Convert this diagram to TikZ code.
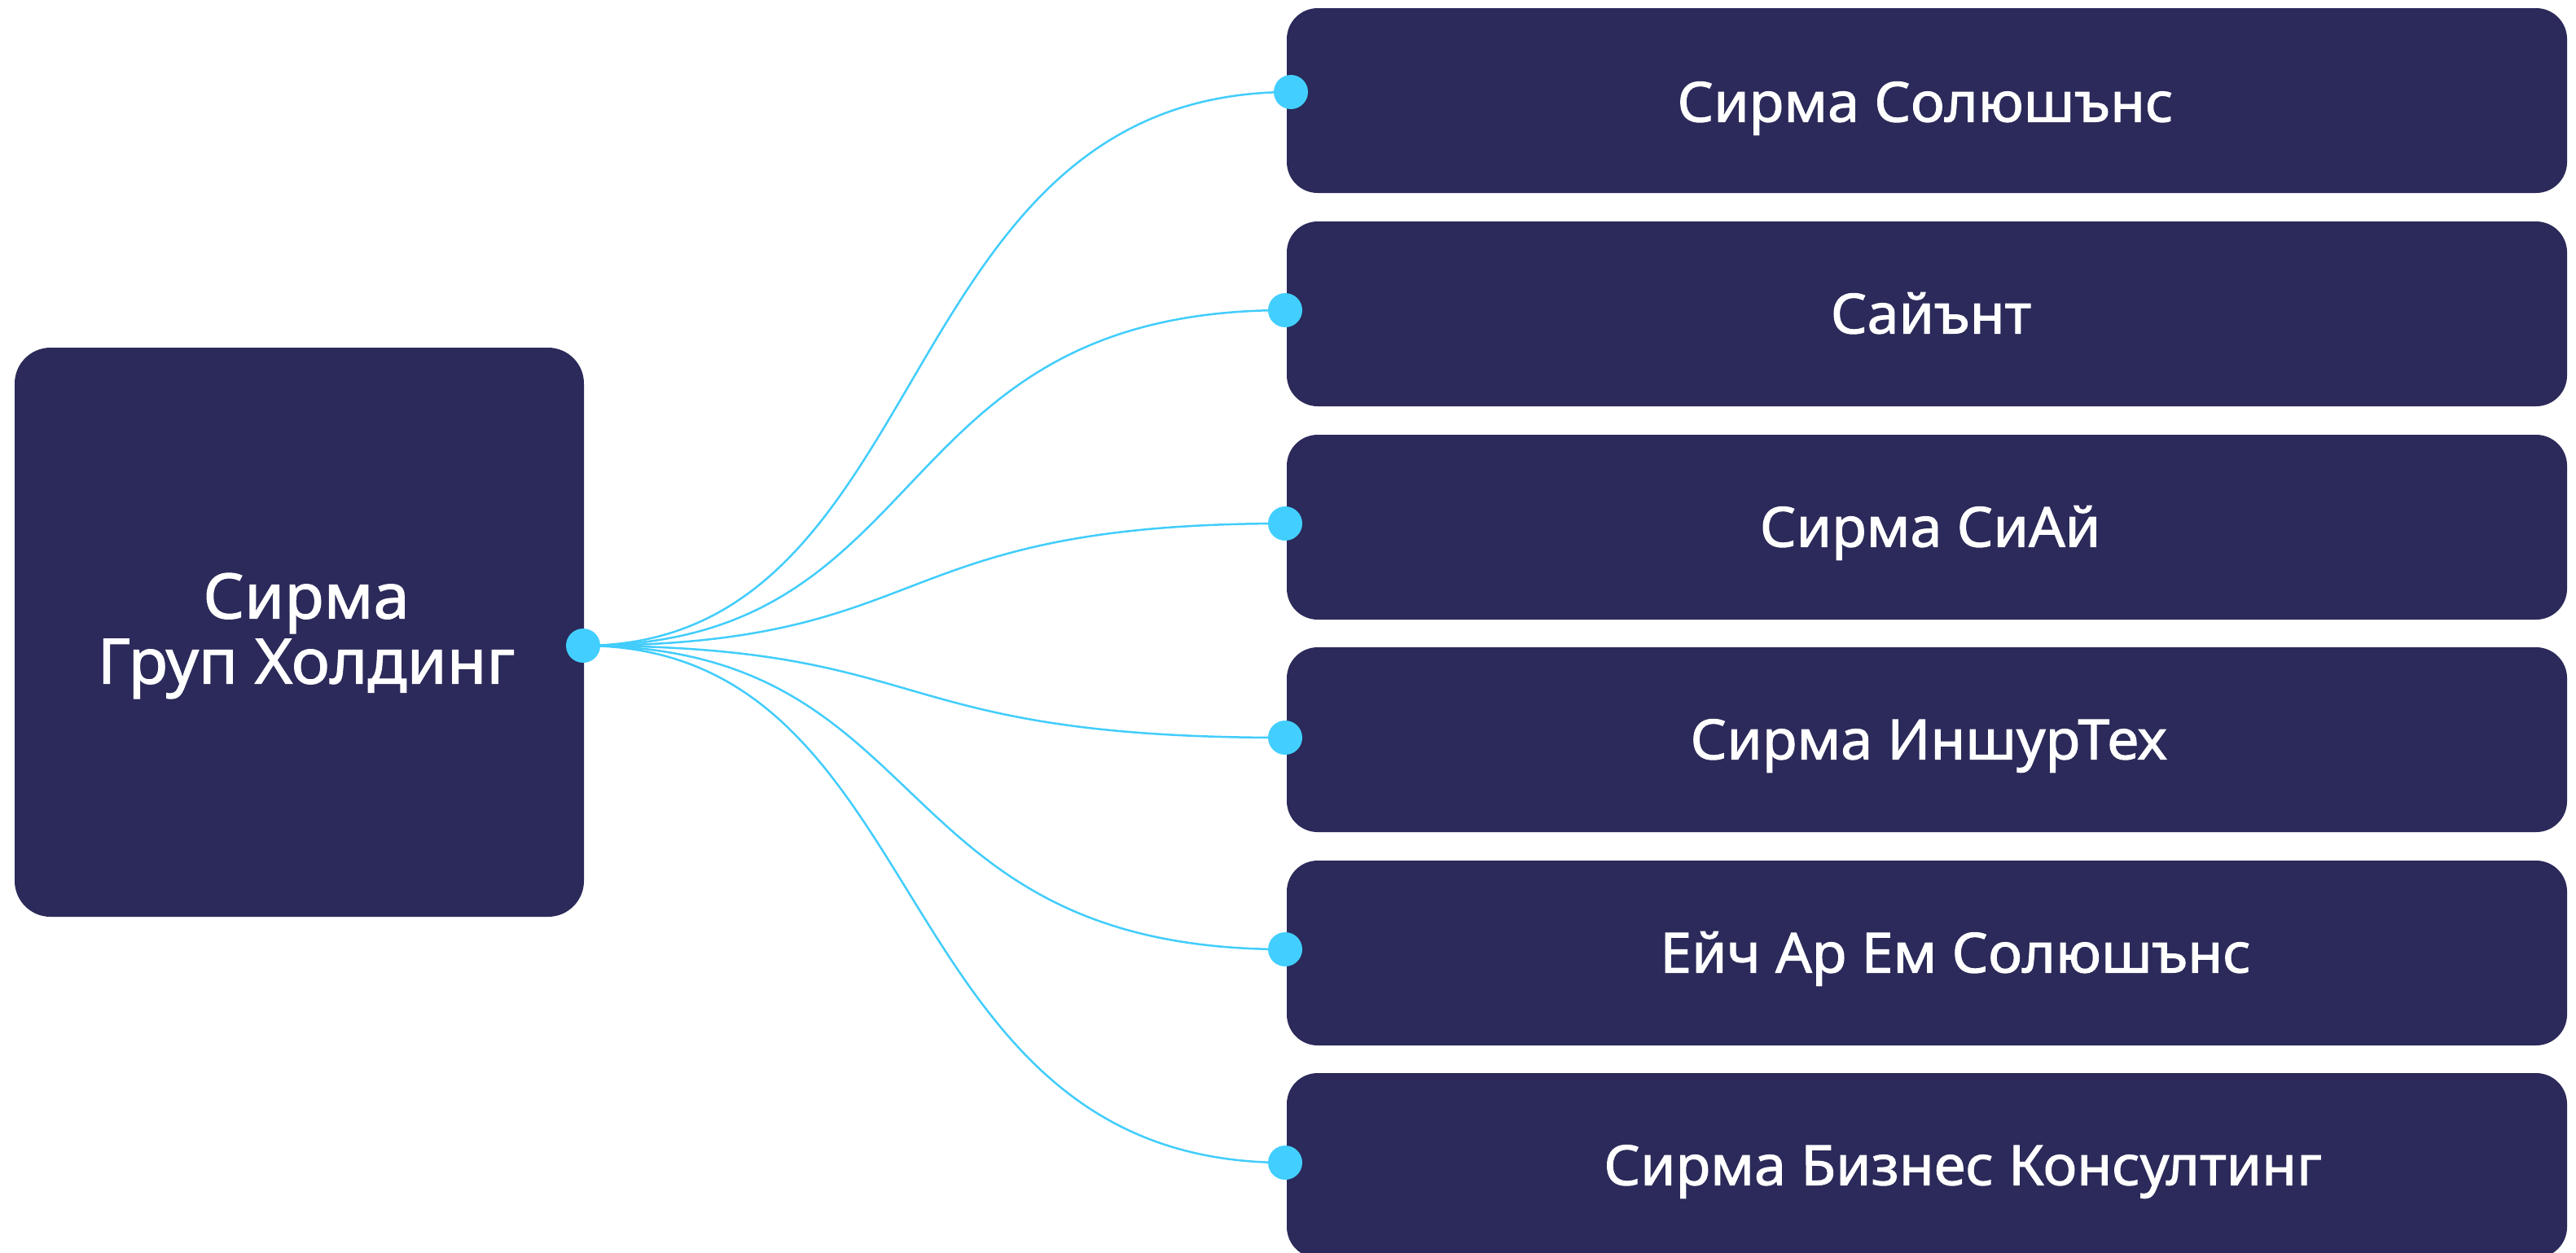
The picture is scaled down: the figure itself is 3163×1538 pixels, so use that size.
\documentclass[tikz,border=0pt]{standalone}
\usepackage{fontspec}
\setmainfont{Noto Sans}[Script=Cyrillic,Language=Bulgarian,FakeBold=1.5,FakeStretch=1.03]
\usetikzlibrary{backgrounds}
\definecolor{navy}{HTML}{2B2A5A}
\definecolor{cyanline}{HTML}{42CDFC}
\definecolor{dotc}{HTML}{42CFFF}
\begin{document}
\begin{tikzpicture}[x=0.5pt,y=-0.5pt,
  card/.style={fill=navy, rounded corners=19pt, minimum width=786pt, minimum height=113.5pt, inner sep=0pt},
  boss/.style={fill=navy, rounded corners=22pt, minimum width=349.5pt, minimum height=349.5pt, inner sep=0pt},
  lbl/.style={text=white, font=\fontsize{34}{40}\selectfont, text height=24.5pt, text depth=0pt, inner sep=0pt},
  bosslbl/.style={text=white, font=\fontsize{38.5}{40}\selectfont, align=center, inner sep=0pt},
  dot/.style={circle, fill=dotc, minimum size=21pt, inner sep=0pt},
  link/.style={draw=cyanline, line width=1.25pt}]
\useasboundingbox (0,0) rectangle (3163,1538);
\clip (0,0) rectangle (3163,1538);
% boxes
\node[boss] (hold) at (367.5,776.5) {};
\node[bosslbl] (holdt) at (376,781) {Сирма\\Груп Холдинг};
\node[card] (b1) at (2366,123.5) {};
\node[card] (b2) at (2366,385.5) {};
\node[card] (b3) at (2366,647.5) {};
\node[card] (b4) at (2366,908.5) {};
\node[card] (b5) at (2366,1170.5) {};
\node[card] (b6) at (2366,1431.5) {};
\node[lbl] (l1) at (2364,125) {Сирма Солюшънс};
\node[lbl] (l2) at (2371,385) {Сайънт};
\node[lbl] (l3) at (2370,647) {Сирма СиАй};
\node[lbl] (l4) at (2368,908) {Сирма ИншурТех};
\node[lbl] (l5) at (2401,1170) {Ейч Ар Ем Солюшънс};
\node[lbl] (l6) at (2410,1431) {Сирма Бизнес Консултинг};
% dots
\node[dot] (s) at (716,793) {};
\node[dot] (d1) at (1585,113) {};
\node[dot] (d2) at (1578,381) {};
\node[dot] (d3) at (1578,643) {};
\node[dot] (d4) at (1578,906) {};
\node[dot] (d5) at (1578,1166) {};
\node[dot] (d6) at (1578,1428) {};
\begin{pgfonlayer}{background}
\foreach \t in {d1,d2,d3,d4,d5,d6}{
  \draw[link] (s.center) .. controls +(440,0) and +(-500,0) .. (\t.center);
}
\end{pgfonlayer}
\end{tikzpicture}
\end{document}
